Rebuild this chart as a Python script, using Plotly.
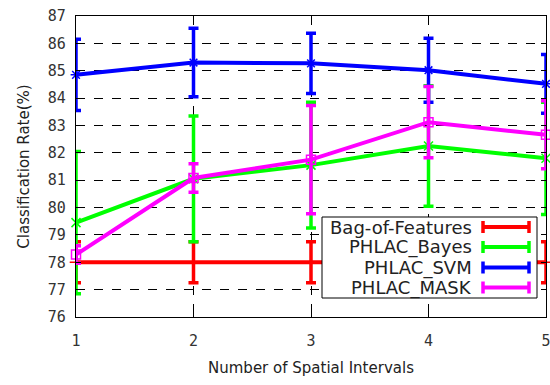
import plotly.graph_objects as go

x = [1, 2, 3, 4, 5]
series_names = ["Bag-of-Features", "PHLAC_Bayes", "PHLAC_SVM", "PHLAC_MASK"]
bof = [78.0, 78.0, 78.0, 78.0, 78.0]
bof_err = [0.75, 0.75, 0.75, 0.75, 0.75]
bayes = [79.45, 81.05, 81.55, 82.25, 81.8]
bayes_err = [2.6, 2.3, 2.3, 2.2, 2.05]
svm = [84.85, 85.3, 85.27, 85.02, 84.52]
svm_err = [1.3, 1.25, 1.1, 1.17, 1.07]
mask = [78.28, 81.08, 81.75, 83.12, 82.66]
mask_err = [0.32, 0.52, 1.98, 1.3, 1.24]

colors = ["#ff0000", "#00ff00", "#0000ff", "#ff00ff"]
symbols = ["cross-thin-open", "x-thin-open", "asterisk-open", "square-open"]
ys = [bof, bayes, svm, mask]
errs = [bof_err, bayes_err, svm_err, mask_err]

fig = go.Figure()
for name, y, e, c, s in zip(series_names, ys, errs, colors, symbols):
    fig.add_trace(go.Scatter(
        x=x, y=y, name=name, mode="lines+markers",
        line=dict(color=c, width=4),
        marker=dict(symbol=s, size=9, color=c, line=dict(color=c, width=1.5)),
        error_y=dict(type="data", array=e, visible=True, color=c, thickness=3.5, width=5),
        cliponaxis=False, showlegend=False,
    ))

L, R, T, B = 76, 546, 16, 317
def px(v):
    return (v - L) / (R - L)
def py(v):
    return (B - v) / (B - T)

shapes = [dict(type="rect", xref="paper", yref="paper",
               x0=px(322), x1=px(537), y0=py(298), y1=py(217),
               line=dict(color="black", width=1), fillcolor="white", layer="above")]
annotations = []
row_y = [227, 247, 267.5, 287.5]
for name, c, s, ry in zip(series_names, colors, symbols, row_y):
    shapes.append(dict(type="line", xref="paper", yref="paper", x0=px(483), x1=px(529),
                       y0=py(ry), y1=py(ry), line=dict(color=c, width=4), layer="above"))
    for cx in (483, 529):
        shapes.append(dict(type="line", xref="paper", yref="paper", x0=px(cx), x1=px(cx),
                           y0=py(ry - 6), y1=py(ry + 6), line=dict(color=c, width=3.5), layer="above"))
    annotations.append(dict(xref="paper", yref="paper", x=px(474), y=py(ry), text=name,
                            showarrow=False, xanchor="right", yanchor="middle",
                            font=dict(family="DejaVu Sans", size=18, color="#222")))
    fig.add_trace(go.Scatter(x=[px(506)], y=[py(ry)], xaxis="x2", yaxis="y2", mode="markers",
                             marker=dict(symbol=s, size=9, color=c, line=dict(color=c, width=1.5)),
                             cliponaxis=False, showlegend=False, hoverinfo="skip"))

fig.update_layout(
    width=550, height=385,
    margin=dict(l=L, r=550 - R, t=T, b=385 - B, autoexpand=False),
    paper_bgcolor="white", plot_bgcolor="white",
    shapes=shapes, annotations=annotations,
    showlegend=False,
    xaxis=dict(range=[1, 5], tickvals=[1, 2, 3, 4, 5], showgrid=True, gridcolor="black",
               griddash="dash", gridwidth=1, showline=True, linecolor="black", linewidth=1.2,
               mirror="ticks", ticks="inside", ticklen=5, tickcolor="black", zeroline=False,
               automargin=False, ticklabeloverflow="allow",
               tickfont=dict(family="DejaVu Sans Mono", size=15, color="#333"),
               ticklabelstandoff=10,
               title=dict(text="Number of Spatial Intervals", standoff=13,
                          font=dict(family="DejaVu Sans", size=15, color="#222"))),
    yaxis=dict(range=[76, 87], tickvals=list(range(76, 88)), showgrid=True, gridcolor="black",
               griddash="dash", gridwidth=1, showline=True, linecolor="black", linewidth=1.2,
               mirror="ticks", ticks="inside", ticklen=5, tickcolor="black", zeroline=False,
               automargin=False, ticklabeloverflow="allow",
               tickfont=dict(family="DejaVu Sans Mono", size=15, color="#333"),
               ticklabelstandoff=6,
               title=dict(text="Classification Rate(%)", standoff=14,
                          font=dict(family="DejaVu Sans", size=15, color="#222"))),
    xaxis2=dict(range=[0, 1], overlaying="x", visible=False, anchor="y2"),
    yaxis2=dict(range=[0, 1], overlaying="y", visible=False, anchor="x2"),
)

fig.write_html("out.html", config={"displayModeBar": False},
               post_script="document.body.style.margin='0';document.body.style.overflow='hidden';")
